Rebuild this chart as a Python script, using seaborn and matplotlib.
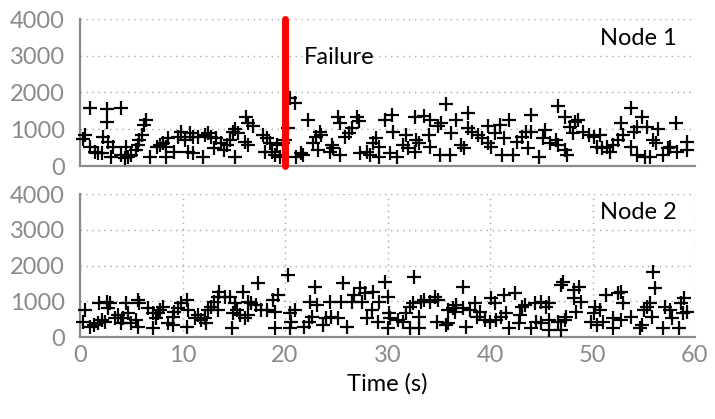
import matplotlib
matplotlib.use("Agg")
import matplotlib.pyplot as plt
import seaborn as sns
import pandas as pd

# ---------------- data ----------------
node1_time = [0.95, 2.67, 3.97, 2.67, 6.48, 6.25, 0.46, 0.3, 0.95, 2.25, 2.74, 3.2, 1.44, 1.76, 2.1,
              3.06, 4.36, 4.04, 4.69, 5.0, 4.5, 5.5, 5.66, 5.8, 6.0, 6.8, 7.5, 7.8, 8.1, 8.4, 8.6, 8.4,
              9.2, 9.6, 9.9, 10.2, 10.7, 10.5, 11.0, 11.0, 11.5, 12.0, 12.2, 12.5, 12.8, 13.3, 13.1,
              13.8, 14.0, 14.3, 14.6, 14.9, 15.1, 15.1,
              16.2, 16.4, 16.9, 15.4, 16.1, 16.4, 17.9, 18.2, 18.5, 18.0, 18.7, 19.0, 19.2, 19.5,
              19.8, 20.0, 20.3, 20.5, 21.0, 21.1, 21.6, 21.8, 22.2, 22.7, 23.0, 23.4, 23.5, 23.2,
              24.6, 24.7, 24.4, 25.4, 25.2, 25.4, 25.9, 26.2, 26.5, 27.0, 27.2, 27.3, 28.0, 28.3,
              28.9, 28.6, 29.2, 29.2, 29.8,
              30.4, 30.5, 30.2, 30.9, 31.5, 31.8, 32.0, 32.7, 33.6, 34.1, 32.8, 33.1, 32.7, 34.0,
              34.1, 34.9, 35.2, 35.7, 35.1, 36.1, 36.2, 36.7, 37.9, 37.9, 37.2, 37.5, 38.2, 38.8,
              39.2, 39.8, 39.8, 40.1, 40.5, 41.0, 41.2, 41.4, 41.9, 42.2, 42.6, 43.1, 43.5, 43.7,
              44.0, 44.0, 44.8, 45.2, 45.4,
              46.6, 47.3, 47.8, 48.3, 48.6, 48.1, 45.9, 46.4, 46.6, 47.3, 47.5, 49.1, 49.7, 50.1,
              50.7, 50.4, 50.9, 51.4, 51.7, 52.0, 52.5, 52.8, 53.0, 53.8, 54.0, 54.3, 54.8, 55.3,
              56.4, 55.9, 56.2, 53.8, 54.3, 55.1, 55.6, 56.9, 57.4, 58.1, 58.2, 57.6, 59.2, 59.2]
node1_ms = [1590, 1550, 1590, 1190, 1250, 1110, 840, 740, 530, 790, 660, 530, 390, 350, 350,
            250, 210, 300, 250, 300, 530, 440, 570, 710, 840, 250, 530, 570, 620, 530, 750, 250,
            390, 800, 930, 710, 890, 390, 350, 800, 800, 250, 840, 890, 800, 750, 480,
            620, 440, 570, 710, 930, 1020, 250,
            1320, 1180, 1090, 900, 660, 570, 840, 750, 620, 390, 390, 300, 570, 250,
            620, 710, 1040, 1860, 1720, 250, 350, 300, 1250, 620, 800, 930, 840, 440,
            570, 480, 390, 300, 1320, 1180, 800, 890, 1040, 1320, 1220, 350, 390, 300,
            750, 620, 530, 250, 1250,
            1380, 930, 350, 250, 570, 840, 480, 1320, 1360, 1250, 710, 620, 390, 840,
            530, 1100, 1160, 1700, 300, 300, 890, 1250, 1430, 1040, 570, 480, 930, 840,
            750, 1090, 620, 530, 890, 1110, 300, 750, 1250, 300, 660, 800, 930, 480,
            1380, 930, 250, 750, 980,
            1620, 1340, 1060, 1200, 1250, 890, 620, 710, 570, 440, 300, 930, 840, 800,
            840, 530, 480, 530, 390, 570, 710, 1160, 840, 1570, 930, 1060, 1340, 1060,
            1020, 710, 620, 530, 300, 250, 250, 300, 480, 1160, 390, 530, 660, 440]

node2_time = [0.46, 0.3, 0.95, 1.4, 1.76, 2.1, 1.9, 2.6, 2.9, 2.7, 2.4, 3.4, 3.7, 4.2, 4.0, 4.5,
              4.7, 5.0, 5.7, 5.8, 5.5, 5.7, 6.6, 7.1, 7.1, 7.4, 7.8, 8.1, 7.6, 8.6, 9.1, 9.1, 9.2,
              9.6, 9.9, 10.4, 10.4, 10.5, 11.2, 11.5, 11.8, 12.2, 12.3, 12.5, 12.8, 13.1, 13.5,
              13.6, 14.1, 14.6, 15.1, 14.9, 14.8, 13.5,
              15.3, 15.9, 16.4, 16.7, 15.6, 16.1, 16.4, 17.4, 17.2, 17.7, 18.2, 18.8, 19.3, 19.0,
              19.0, 20.3, 20.5, 21.0, 20.6, 20.5, 21.9, 22.3, 22.6, 22.4, 22.9, 23.1, 23.7, 24.0,
              24.4, 24.5, 25.2, 25.5, 25.7, 26.0, 26.5, 26.7, 27.3, 27.5, 27.8, 28.0, 28.5, 28.6,
              29.2, 29.1, 29.8, 30.0, 30.1, 30.0,
              30.2, 31.0, 31.5, 31.8, 32.2, 32.2, 32.5, 32.6, 33.1, 33.1, 33.3, 33.6, 34.1, 34.6,
              34.9, 34.8, 35.7, 35.9, 35.9, 36.4, 36.7, 36.6, 37.4, 37.4, 37.7, 38.0, 38.5, 38.7,
              39.0, 39.5, 40.0, 40.1, 40.5, 40.6, 41.1, 41.4, 41.6, 42.4, 41.9, 42.8, 42.9, 43.1,
              43.4, 44.0, 44.4, 44.5, 45.0, 45.0, 45.5,
              45.8, 45.8, 45.8, 46.9, 47.1, 46.6, 46.9, 47.3, 47.4, 48.2, 48.7, 48.2, 48.9, 48.4,
              50.1, 50.2, 50.7, 49.9, 50.4, 51.0, 51.3, 52.0, 52.0, 52.5, 52.8, 53.0, 52.8, 53.8,
              54.6, 54.8, 55.0, 55.3, 55.6, 55.9, 56.1, 55.8, 56.9, 57.1, 57.6, 57.8, 58.4, 58.6,
              58.9, 58.8, 59.2]
node2_ms = [760, 430, 290, 340, 380, 480, 950, 990, 950, 810, 430, 520, 620, 520, 380, 950,
            660, 380, 1040, 950, 480, 290, 810, 660, 250, 520, 760, 850, 660, 380, 340, 570, 710,
            810, 950, 1040, 290, 760, 520, 620, 480, 520, 380, 760, 850, 990, 1130,
            1270, 1130, 1130, 950, 660, 250, 760,
            760, 1270, 990, 950, 620, 520, 620, 1500, 900, 760, 760, 1040, 1180, 710,
            250, 1740, 660, 760, 430, 250, 290, 430, 570, 990, 1410, 900, 340, 520,
            990, 570, 520, 990, 1500, 290, 990, 1180, 1360, 990, 1230, 520, 760, 1270,
            990, 430, 1550, 1130, 660, 250,
            520, 480, 430, 660, 850, 250, 950, 1690, 570, 250, 990, 1040, 990, 1130,
            1040, 430, 340, 380, 760, 810, 900, 710, 1410, 810, 290, 760, 950, 570,
            710, 480, 430, 1080, 950, 480, 570, 1180, 660, 1230, 250, 380, 620, 850,
            900, 250, 950, 430, 990, 380, 850,
            950, 480, 200, 1460, 1550, 430, 200, 480, 570, 1320, 1410, 1080, 990, 710,
            660, 850, 760, 430, 340, 430, 1180, 520, 250, 1230, 1270, 950, 480, 570,
            250, 340, 760, 850, 950, 1830, 1360, 570, 250, 850, 760, 520, 250, 950,
            1080, 660, 710]

panel_labels = ["Node 1", "Node 2"]
failure_time = 20
failure_label = "Failure"
y_ticks = [0, 1000, 2000, 3000, 4000]
x_ticks = [0, 10, 20, 30, 40, 50, 60]
x_label = "Time (s)"

# ---------------- style ----------------
sns.set_style("white")
plt.rcParams["font.family"] = ["Lato", "DejaVu Sans"]

GRAY = "#8a8a8a"
GRID = "#a8a8a8"
FS = 17

fig = plt.figure(figsize=(7.15, 4.19), dpi=100)
ax1 = fig.add_axes([80 / 715, 1 - 166 / 419, 615 / 715, 147 / 419])
ax2 = fig.add_axes([80 / 715, 1 - 337 / 419, 615 / 715, 143 / 419])

df1 = pd.DataFrame({"t": node1_time, "ms": node1_ms})
df2 = pd.DataFrame({"t": node2_time, "ms": node2_ms})

for ax, df, label in [(ax1, df1, panel_labels[0]), (ax2, df2, panel_labels[1])]:
    sns.scatterplot(data=df, x="t", y="ms", marker="+", color="black", s=100,
                    linewidth=1.6, ax=ax, zorder=3, clip_on=False)
    ax.set_xlim(0, 60)
    ax.set_ylim(0, 4000)
    ax.set_yticks(y_ticks)
    ax.set_xticks(x_ticks)
    ax.set_xlabel("")
    ax.set_ylabel("")
    for s in ["top", "right"]:
        ax.spines[s].set_visible(False)
    for s in ["left", "bottom"]:
        ax.spines[s].set_color(GRAY)
        ax.spines[s].set_linewidth(1.6)
    ax.tick_params(axis="y", direction="in", length=8, width=1.6, color=GRAY,
                   labelcolor=GRAY, labelsize=FS, pad=11)
    ax.yaxis.grid(True, linestyle=(0, (1, 3.3)), color=GRID, linewidth=1)
    ax.set_axisbelow(True)
    ax.text(58.2, 3480, label, ha="right", va="center", fontsize=FS, color="black")

# top panel: no x ticks / labels, no vertical grid
ax1.tick_params(axis="x", bottom=False, labelbottom=False)
ax1.xaxis.grid(False)
ax1.plot([failure_time, failure_time], [0, 4000], color="#ff0000", lw=5,
         solid_capstyle="round", zorder=4, clip_on=False)
ax1.text(21.8, 2960, failure_label, ha="left", va="center", fontsize=FS, color="black")

# bottom panel: inward x ticks and vertical dotted grid
ax2.tick_params(axis="x", direction="in", length=8, width=1.6, color=GRAY,
                labelcolor=GRAY, labelsize=FS, pad=6)
ax2.xaxis.grid(True, linestyle=(0, (1, 3.3)), color=GRID, linewidth=1)
ax2.set_xlabel(x_label, fontsize=FS, color="black", labelpad=5)

fig.savefig("out.png", dpi=100)
